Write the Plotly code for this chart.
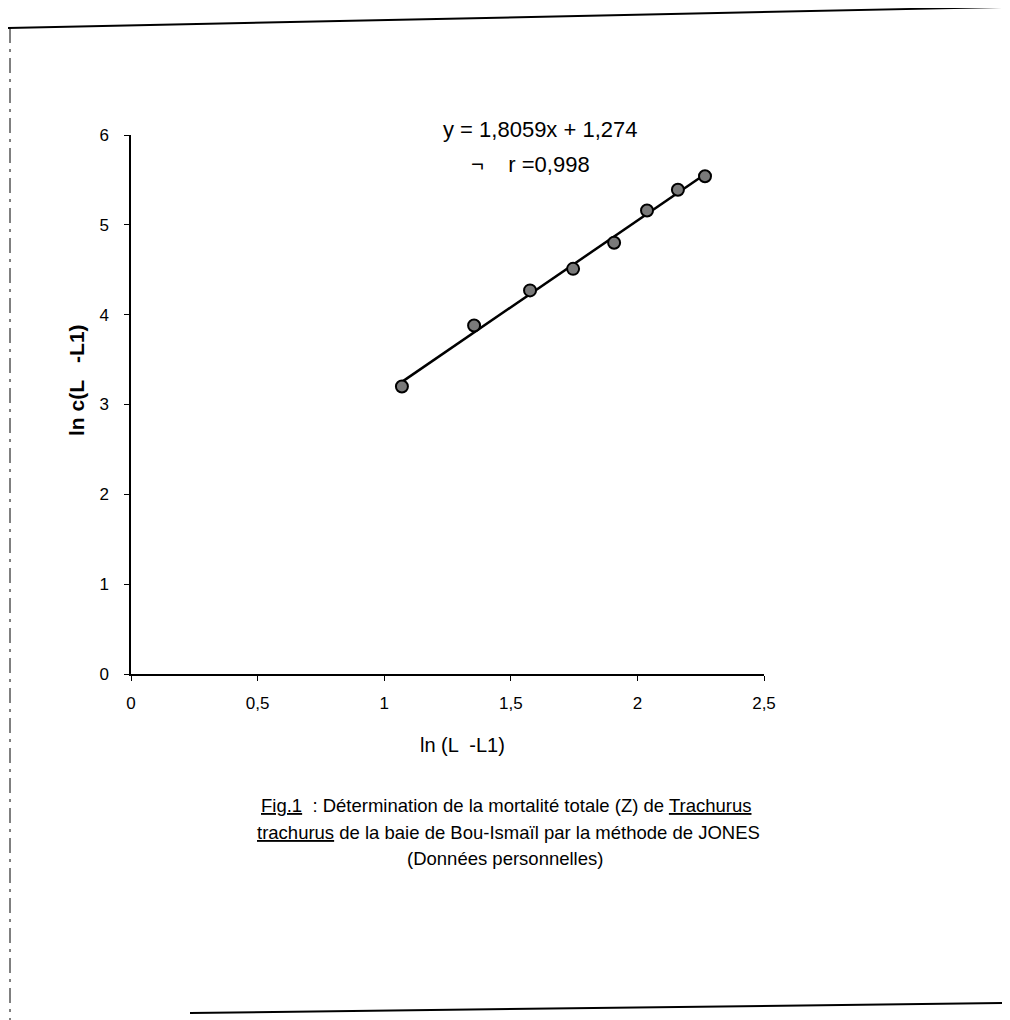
import numpy as np
import plotly.graph_objects as go

# Data
x_vals = [1.070, 1.355, 1.576, 1.746, 1.908, 2.038, 2.160, 2.267]
y_vals = [3.20, 3.88, 4.27, 4.51, 4.80, 5.16, 5.39, 5.54]
x_ticks = [0, 0.5, 1, 1.5, 2, 2.5]
y_ticks = [0, 1, 2, 3, 4, 5, 6]

# Trend line from least squares fit of the points
slope, intercept = np.polyfit(x_vals, y_vals, 1)
x_line = [min(x_vals), max(x_vals)]
y_line = [slope * v + intercept for v in x_line]

OFF = 8  # page body margin
W, H = 1010 - OFF, 1020 - OFF
# plot area in page pixels
L, R, T, B = 131, 764, 135, 674


def px(x):
    return (x - L) / (R - L)


def py(y):
    return (B - y) / (B - T)


FONT = "Liberation Sans, Arial, sans-serif"

fig = go.Figure()
fig.add_trace(go.Scatter(x=x_line, y=y_line, mode="lines",
                         line=dict(color="black", width=2.5),
                         showlegend=False, hoverinfo="skip"))
fig.add_trace(go.Scatter(x=x_vals, y=y_vals, mode="markers",
                         marker=dict(symbol="circle", size=12, color="#7a7a7a",
                                     line=dict(color="black", width=2)),
                         showlegend=False))

fig.update_layout(
    width=W, height=H,
    paper_bgcolor="white", plot_bgcolor="white",
    separators=", ",
    margin=dict(l=L - OFF, r=W - (R - OFF), t=T - OFF, b=H - (B - OFF), pad=0),
    font=dict(family=FONT, color="black"),
    xaxis=dict(range=[0, 2.5], tickvals=x_ticks, showgrid=False, zeroline=False,
               showline=True, linecolor="black", linewidth=1.5,
               ticks="outside", ticklen=5, tickcolor="black",
               ticklabelstandoff=8,
               tickfont=dict(size=17, family=FONT), fixedrange=True),
    yaxis=dict(range=[0, 6], tickvals=y_ticks, showgrid=False, zeroline=False,
               showline=True, linecolor="black", linewidth=1.5,
               ticks="outside", ticklen=5, tickcolor="black",
               ticklabelstandoff=12,
               tickfont=dict(size=17, family=FONT), fixedrange=True),
)


def note(xp, yp, text, size, angle=0):
    return dict(x=px(xp), y=py(yp), xref="paper", yref="paper", text=text,
                showarrow=False, xanchor="center", yanchor="middle",
                textangle=angle, font=dict(size=size, family=FONT))


ann = [
    note(462, 745, "ln (L  -L1)", 20),
    note(76, 380, "<b>ln c(L   -L1)</b>", 21, -90),
    note(540, 130, "y = 1,8059x + 1,274", 22),
    note(530, 164, "¬    r =0,998", 22),
    note(506, 805, "<u>Fig.1</u>  : Détermination de la mortalité totale (Z) de <u>Trachurus</u>", 18.5),
    note(508, 832, "<u>trachurus</u> de la baie de Bou-Ismaïl par la méthode de JONES", 18.5),
    note(505, 858, "(Données personnelles)", 18.5),
]
fig.update_layout(annotations=ann)

# page frame of the scanned document
shapes = [
    dict(type="line", xref="paper", yref="paper",
         x0=px(5), y0=py(28), x1=px(1006), y1=py(7),
         line=dict(color="black", width=2)),
    dict(type="line", xref="paper", yref="paper",
         x0=px(10), y0=py(28), x1=px(10), y1=py(1020),
         line=dict(color="black", width=1, dash="longdashdot")),
    dict(type="line", xref="paper", yref="paper",
         x0=px(1004), y0=py(7), x1=px(1004), y1=py(140),
         line=dict(color="black", width=1, dash="longdash")),
    dict(type="line", xref="paper", yref="paper",
         x0=px(190), y0=py(1013), x1=px(1010), y1=py(1003),
         line=dict(color="black", width=2)),
]
fig.update_layout(shapes=shapes)

fig.write_html("out.html")
